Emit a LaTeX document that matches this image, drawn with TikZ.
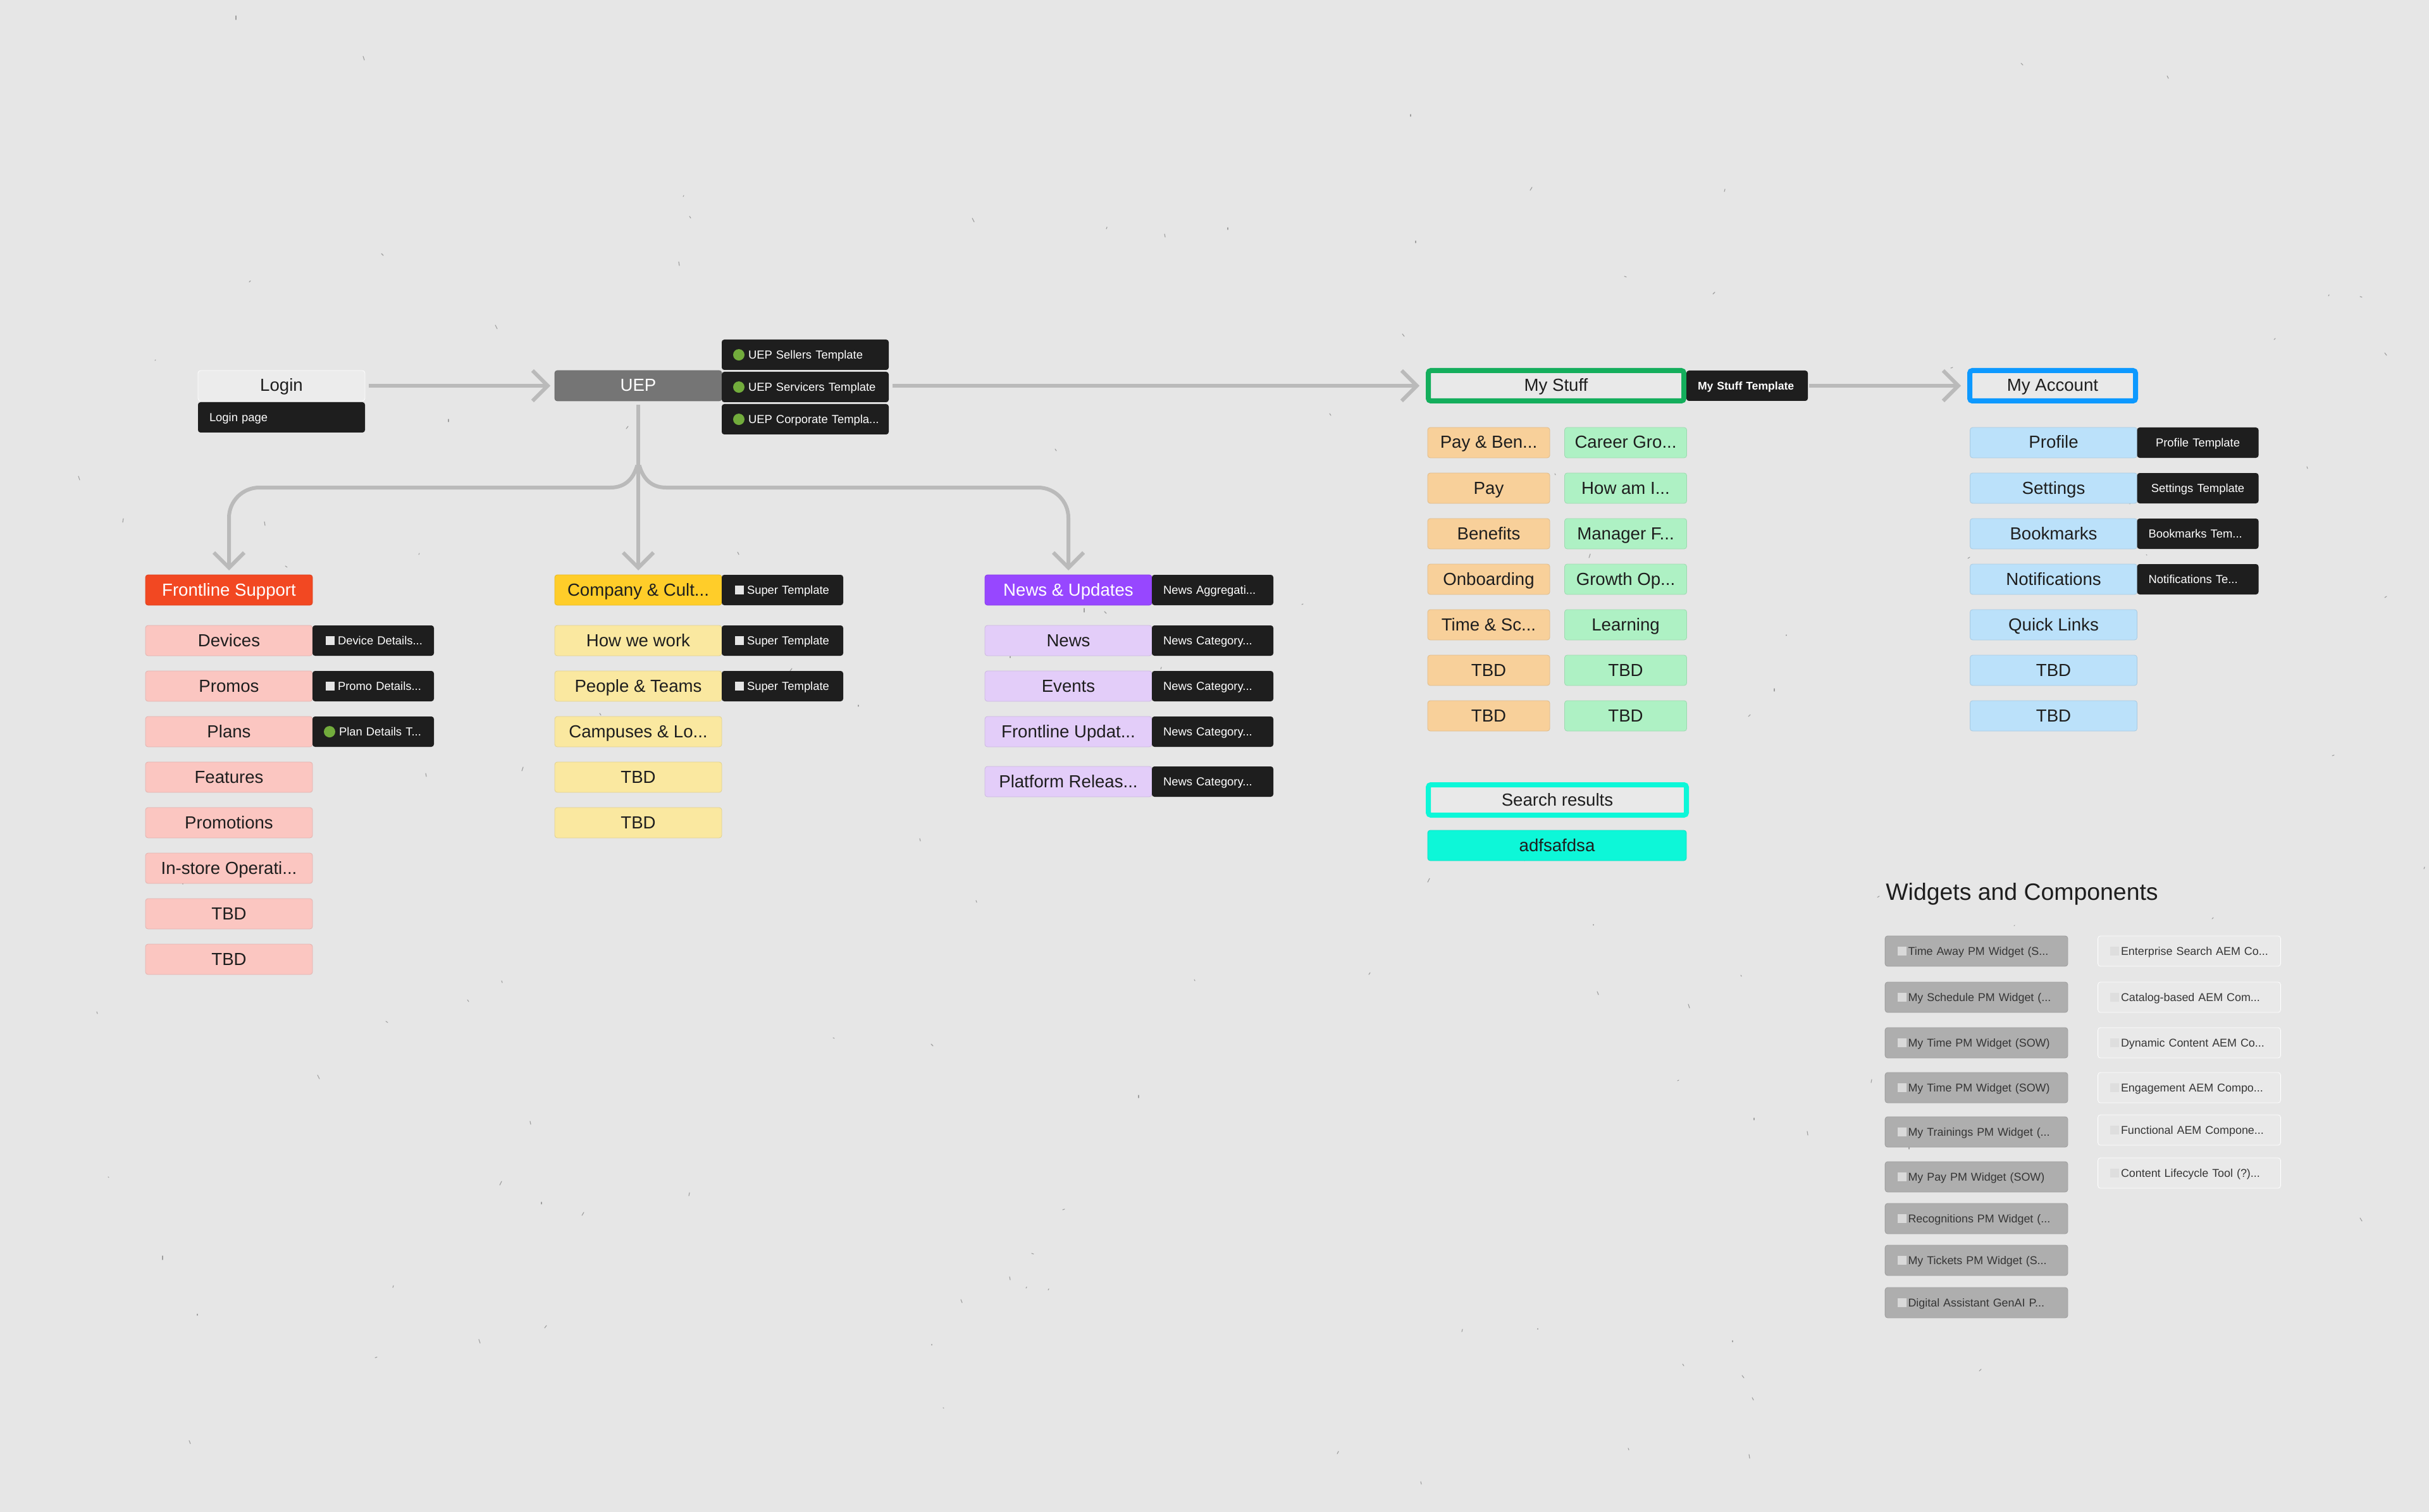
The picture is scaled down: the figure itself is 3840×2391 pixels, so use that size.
\documentclass[tikz,border=0pt]{standalone}
\usepackage{fontspec}
\setmainfont{Liberation Sans}
\usetikzlibrary{arrows.meta,calc,positioning}

\definecolor{paper}{HTML}{E6E6E6}
\definecolor{ink}{HTML}{1E1E1E}
\definecolor{flowgray}{HTML}{BABABA}
\definecolor{logingray}{HTML}{ECECEC}
\definecolor{uepgray}{HTML}{757575}
\definecolor{frontred}{HTML}{F24822}
\definecolor{companyyellow}{HTML}{FFCD29}
\definecolor{newspurple}{HTML}{9747FF}
\definecolor{pinkrow}{HTML}{FBC6C1}
\definecolor{yellowrow}{HTML}{FAE8A0}
\definecolor{purplerow}{HTML}{E3CDF9}
\definecolor{orangerow}{HTML}{F8D09A}
\definecolor{greenrow}{HTML}{AEF1C4}
\definecolor{bluerow}{HTML}{BBE1FA}
\definecolor{cyanrow}{HTML}{0DF7D8}
\definecolor{stuffgreen}{HTML}{14AE5C}
\definecolor{accountblue}{HTML}{0D99FF}
\definecolor{dotgreen}{HTML}{72AC3C}
\definecolor{widgetgray}{HTML}{AEAEAE}
\definecolor{widgetoff}{HTML}{E9E9E9}

\newcommand{\sqmark}{\hspace*{1.5pt}\textcolor{white!90!black}{\rule{7pt}{7pt}}\hspace{2.5pt}}
\newcommand{\dotmark}{\tikz[baseline=0pt]\fill[dotgreen] (4.5pt,3.2pt) circle (4.5pt);\hspace{3pt}}
\newcommand{\wonmark}{\textcolor{white!85!black}{\rule{7pt}{7pt}}\hspace{1.5pt}}
\newcommand{\woffmark}{\textcolor{white!87!black}{\rule{7pt}{7pt}}\hspace{1.5pt}}

\begin{document}
\begin{tikzpicture}[x=0.5pt,y=-0.5pt,node distance=36pt,
    box/.style={rectangle, rounded corners=2pt, minimum width=132pt, minimum height=24pt,
      inner sep=0pt, outer sep=0pt, fill=#1, draw=#1!90!black, line width=.4pt, text=ink,
      text height=10pt, text depth=1pt, font=\fontsize{13.8}{16}\selectfont},
    halfbox/.style={box=#1, minimum width=96.5pt},
    framed/.style={box=widgetoff, draw=#1, line width=4pt, minimum height=24pt},
    tpl/.style={rectangle, rounded corners=2pt, minimum height=24pt, text width=#1,
      inner xsep=9pt, inner ysep=0pt, outer sep=0pt, fill=ink, text=white, align=left,
      text height=6.5pt, text depth=0pt, font=\fontsize{9.2}{10}\selectfont},
    widgeton/.style={rectangle, rounded corners=2pt, minimum height=24pt, text width=125pt,
      inner xsep=9.7pt, inner ysep=0pt, outer sep=0pt, fill=widgetgray, draw=widgetgray!90!black,
      line width=.4pt, text=ink!90, align=left, text height=6.5pt, text depth=0pt,
      font=\fontsize{8.95}{10}\selectfont},
    widgetout/.style={widgeton, fill=widgetoff, draw=white},
    flow/.style={draw=flowgray, line width=3pt,
      -{Straight Barb[length=12pt,width=24pt,line width=3pt]}, shorten >=3.5pt, shorten <=3pt},
    speck/.style={draw=black!38, line width=.55pt, line cap=round}]
  \useasboundingbox (0,0) rectangle (3840,2391);
  \fill[paper] (0,0) rectangle (3840,2391);
  \pgfmathsetseed{11}
  \foreach \i in {1,...,130} {
    \pgfmathsetmacro{\sx}{random(0,3840)}
    \pgfmathsetmacro{\sy}{random(0,2391)}
    \pgfmathsetmacro{\sdx}{random(-3,3)}
    \pgfmathsetmacro{\sdy}{random(1,6)}
    \draw[speck] (\sx,\sy) -- ++(\sdx,\sdy);
  }

  \node [box=logingray, draw=white]                  (login) at (445,610) {Login};
  \node [tpl=114pt] [below=1pt of login]             (loginpage) {Login page};

  \node [box=uepgray, text=white]                    (uep) at (1009,610) {UEP};
  \node [tpl=114pt] [right=0pt of uep, yshift=-1pt]  (ueptpl2) {\dotmark UEP Servicers Template};
  \node [tpl=114pt] [above=1.5pt of ueptpl2]         (ueptpl1) {\dotmark UEP Sellers Template};
  \node [tpl=114pt] [below=1.5pt of ueptpl2]         (ueptpl3) {\mbox{\dotmark UEP Corporate Templa...}};

  \node [framed=stuffgreen, minimum width=202pt]     (mystuff) at (2460,610) {My Stuff};
  \node [tpl=78pt, font=\fontsize{8.8}{10}\bfseries\selectfont] [right=2pt of mystuff] (mystufftpl) {My Stuff Template};
  \node [framed=accountblue, minimum width=131pt]    (myaccount) at (3245,610) {My Account};

  \node [box=frontred, text=white]                   (frontline) at (362,933) {Frontline Support};
  \node [box=pinkrow] [below of=frontline, node distance=40pt] (devices) {Devices};
  \node [box=pinkrow] [below of=devices]             (promos) {Promos};
  \node [box=pinkrow] [below of=promos]              (plans) {Plans};
  \node [box=pinkrow] [below of=plans]               (features) {Features};
  \node [box=pinkrow] [below of=features]            (promotions) {Promotions};
  \node [box=pinkrow] [below of=promotions]          (instore) {In-store Operati...};
  \node [box=pinkrow] [below of=instore]             (frontTBDa) {TBD};
  \node [box=pinkrow] [below of=frontTBDa]           (frontTBDb) {TBD};
  \node [tpl=78pt] [right=0pt of devices]            (devicestpl) {\sqmark Device Details...};
  \node [tpl=78pt] [right=0pt of promos]             (promostpl) {\sqmark Promo Details...};
  \node [tpl=78pt] [right=0pt of plans]              (planstpl) {\dotmark Plan Details T...};

  \node [box=companyyellow]                          (company) at (1009,933) {Company \& Cult...};
  \node [box=yellowrow] [below of=company, node distance=40pt] (howwework) {How we work};
  \node [box=yellowrow] [below of=howwework]         (people) {People \& Teams};
  \node [box=yellowrow] [below of=people]            (campuses) {Campuses \& Lo...};
  \node [box=yellowrow] [below of=campuses]          (companyTBDa) {TBD};
  \node [box=yellowrow] [below of=companyTBDa]       (companyTBDb) {TBD};
  \node [tpl=78pt] [right=0pt of company]            (companytpl) {\sqmark Super Template};
  \node [tpl=78pt] [right=0pt of howwework]          (howtpl) {\sqmark Super Template};
  \node [tpl=78pt] [right=0pt of people]             (peopletpl) {\sqmark Super Template};

  \node [box=newspurple, text=white]                 (newsup) at (1689,933) {News \& Updates};
  \node [box=purplerow] [below of=newsup, node distance=40pt] (news) {News};
  \node [box=purplerow] [below of=news]              (events) {Events};
  \node [box=purplerow] [below of=events]            (frontupd) {Frontline Updat...};
  \node [box=purplerow] [below of=frontupd, node distance=39.5pt] (platform) {Platform Releas...};
  \node [tpl=78pt] [right=0pt of newsup]             (newsuptpl) {News Aggregati...};
  \node [tpl=78pt] [right=0pt of news]               (newstpl) {News Category...};
  \node [tpl=78pt] [right=0pt of events]             (eventstpl) {News Category...};
  \node [tpl=78pt] [right=0pt of frontupd]           (frontupdtpl) {News Category...};
  \node [tpl=78pt] [right=0pt of platform]           (platformtpl) {News Category...};

  \node [halfbox=orangerow]                          (payben) at (2353.5,700) {Pay \& Ben...};
  \node [halfbox=orangerow] [below of=payben]        (pay) {Pay};
  \node [halfbox=orangerow] [below of=pay]           (benefits) {Benefits};
  \node [halfbox=orangerow] [below of=benefits]      (onboarding) {Onboarding};
  \node [halfbox=orangerow] [below of=onboarding]    (timesc) {Time \& Sc...};
  \node [halfbox=orangerow] [below of=timesc]        (payTBDa) {TBD};
  \node [halfbox=orangerow] [below of=payTBDa]       (payTBDb) {TBD};

  \node [halfbox=greenrow]                           (career) at (2570,700) {Career Gro...};
  \node [halfbox=greenrow] [below of=career]         (howami) {How am I...};
  \node [halfbox=greenrow] [below of=howami]         (manager) {Manager F...};
  \node [halfbox=greenrow] [below of=manager]        (growth) {Growth Op...};
  \node [halfbox=greenrow] [below of=growth]         (learning) {Learning};
  \node [halfbox=greenrow] [below of=learning]       (careerTBDa) {TBD};
  \node [halfbox=greenrow] [below of=careerTBDa]     (careerTBDb) {TBD};

  \node [framed=cyanrow, minimum width=204pt]        (search) at (2462,1265) {Search results};
  \node [box=cyanrow, minimum width=204.5pt]         (adfs) at (2461.5,1337) {adfsafdsa};

  \node [box=bluerow]                                (profile) at (3246.5,700) {Profile};
  \node [box=bluerow] [below of=profile]             (settings) {Settings};
  \node [box=bluerow] [below of=settings]            (bookmarks) {Bookmarks};
  \node [box=bluerow] [below of=bookmarks]           (notifications) {Notifications};
  \node [box=bluerow] [below of=notifications]       (quicklinks) {Quick Links};
  \node [box=bluerow] [below of=quicklinks]          (accountTBDa) {TBD};
  \node [box=bluerow] [below of=accountTBDa]         (accountTBDb) {TBD};
  \node [tpl=78pt, align=center] [right=0pt of profile]  (profiletpl) {Profile Template};
  \node [tpl=78pt, align=center] [right=0pt of settings] (settingstpl) {Settings Template};
  \node [tpl=78pt] [right=0pt of bookmarks]          (bookmarkstpl) {Bookmarks Tem...};
  \node [tpl=78pt] [right=0pt of notifications]      (notificationstpl) {Notifications Te...};

  \node [anchor=west, text=ink, inner sep=0pt, font=\fontsize{18.7}{22}\selectfont] (wtitle) at (2981,1414) {Widgets and Components};

  \node [widgeton]  (wona) at (3124.5,1504) {\wonmark Time Away PM Widget (S...};
  \node [widgeton]  (wonb) at (3124.5,1577) {\wonmark My Schedule PM Widget (...};
  \node [widgeton]  (wonc) at (3124.5,1649) {\wonmark My Time PM Widget (SOW)};
  \node [widgeton]  (wond) at (3124.5,1720) {\wonmark My Time PM Widget (SOW)};
  \node [widgeton]  (wone) at (3124.5,1790) {\wonmark My Trainings PM Widget (...};
  \node [widgeton]  (wonf) at (3124.5,1861) {\wonmark My Pay PM Widget (SOW)};
  \node [widgeton]  (wong) at (3124.5,1927) {\wonmark Recognitions PM Widget (...};
  \node [widgeton]  (wonh) at (3124.5,1993) {\wonmark My Tickets PM Widget (S...};
  \node [widgeton]  (woni) at (3124.5,2060) {\wonmark Digital Assistant GenAI P...};

  \node [widgetout] (woffa) at (3461,1504) {\woffmark Enterprise Search AEM Co...};
  \node [widgetout] (woffb) at (3461,1577) {\woffmark Catalog-based AEM Com...};
  \node [widgetout] (woffc) at (3461,1649) {\woffmark Dynamic Content AEM Co...};
  \node [widgetout] (woffd) at (3461,1720) {\woffmark Engagement AEM Compo...};
  \node [widgetout] (woffe) at (3461,1787) {\woffmark Functional AEM Compone...};
  \node [widgetout] (wofff) at (3461,1855) {\woffmark Content Lifecycle Tool (?)...};

  \coordinate (fork) at (1009,730);
  \coordinate (forkl) at (965,771);
  \coordinate (forkr) at (1053,771);

  \draw[flow] (login) -- (uep);
  \draw[flow, shorten >=7pt] (ueptpl2.east |- uep) -- (uep -| mystuff.west);
  \draw[flow, shorten >=7pt, shorten <=1pt] (mystufftpl) -- (myaccount);
  \draw[flow] (uep) -- (company);
  \draw[flow] (fork) .. controls (1002,755) and (990,771) .. (forkl)
    [rounded corners=24pt] -- (frontline |- forkl) -- (frontline);
  \draw[flow] (fork) .. controls (1016,755) and (1028,771) .. (forkr)
    [rounded corners=24pt] -- (newsup |- forkr) -- (newsup);
\end{tikzpicture}
\end{document}
